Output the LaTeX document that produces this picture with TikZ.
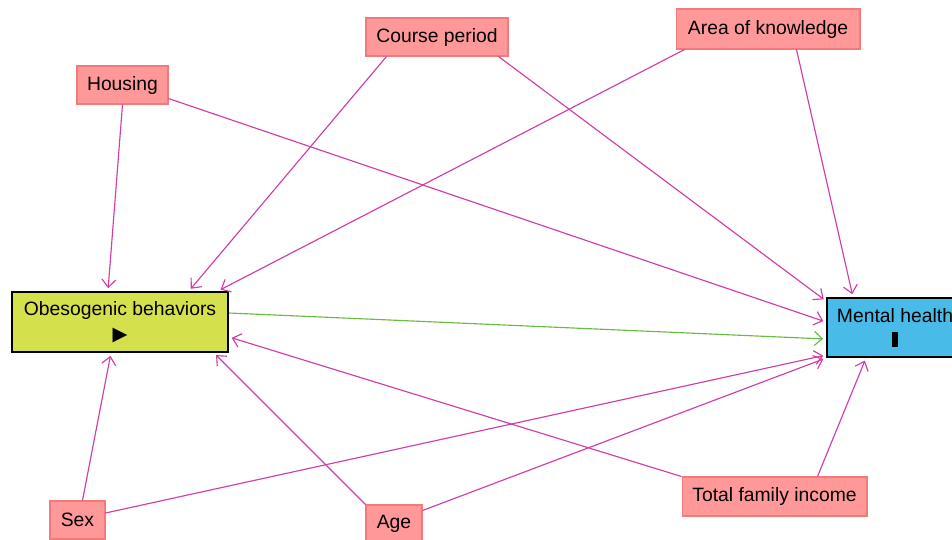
\documentclass[tikz,border=0pt]{standalone}
\usepackage{fontspec}
\setmainfont{Liberation Sans}
\newfontfamily\symfont{DejaVu Sans}
\usetikzlibrary{arrows.meta,calc}

\definecolor{boxpink}{RGB}{255,153,153}
\definecolor{borderpink}{RGB}{242,122,122}
\definecolor{linkpink}{RGB}{210,60,165}
\definecolor{linkgreen}{RGB}{105,188,65}
\definecolor{expfill}{RGB}{212,224,76}
\definecolor{outfill}{RGB}{72,187,232}

\begin{document}
\begin{tikzpicture}[x=0.02cm, y=-0.02cm,
    every node/.style={font=\fontsize{11}{12}\selectfont, inner sep=0pt},
    covar/.style={rectangle, fill=boxpink, draw=borderpink, line width=0.6pt, minimum height=0.76cm},
    mainbox/.style={rectangle, draw=black, line width=1.2pt, align=center},
    link/.style={draw=linkpink, line width=0.65pt, -{Straight Barb[length=4.5pt,width=8pt]}, shorten >=1.6pt},
    effect/.style={link, draw=linkgreen}]
    \useasboundingbox (0,0) rectangle (952,539);

    \node[covar, minimum width=1.82cm] (housing) at (122.5,85) {Housing};
    \node[covar, minimum width=2.84cm] (course) at (437,37) {Course period};
    \node[covar, minimum width=3.68cm, minimum height=0.8cm] (area) at (768,29) {Area of knowledge};
    \node[covar, minimum width=1.1cm] (sex) at (77.5,520) {Sex};
    \node[covar, minimum width=1.12cm] (age) at (394,524) {Age};
    \node[covar, minimum width=3.7cm, minimum height=0.78cm] (income) at (774.5,496.5) {Total family income};
    \node[mainbox, fill=expfill, minimum width=4.32cm, minimum height=1.2cm] (obes) at (120,322)
      {Obesogenic behaviors\\[2pt]{\symfont ▶}};
    \node[mainbox, fill=outfill, minimum width=2.72cm, minimum height=1.18cm] (mental) at (895,327.5)
      {Mental health\\[2pt]\rule{3.2pt}{8.5pt}};

    \draw[link] (housing.south) -- ($(obes.north west)+(97,0)$);
    \draw[link] ($(housing.south east)+(0,-6)$) -- ($(mental.west)+(0,-5.5)$);
    \draw[link] ($(course.south west)+(21,0)$) -- ($(obes.north west)+(178,0)$);
    \draw[link] ($(course.south east)+(-10,0)$) -- ($(mental.north west)+(0,4)$);
    \draw[link] ($(area.south west)+(9,0)$) -- ($(obes.north east)+(-11,0)$);
    \draw[link] ($(area.south west)+(121,0)$) -- ($(mental.north west)+(27,0)$);
    \draw[effect] ($(obes.east)+(0,-9)$) -- ($(mental.west)+(0,11.5)$);
    \draw[link] ($(sex.north west)+(33,0)$) -- ($(obes.south west)+(100,0)$);
    \draw[link] ($(sex.east)+(0,-7)$) -- ($(mental.south west)+(0,-3)$);
    \draw[link] (age.north west) -- ($(obes.south east)+(-15,0)$);
    \draw[link] ($(age.north east)+(0,6)$) -- (mental.south west);
    \draw[link] (income.north west) -- ($(obes.east)+(0,15)$);
    \draw[link] ($(income.north west)+(136,0)$) -- ($(mental.south west)+(40,0)$);
\end{tikzpicture}
\end{document}
